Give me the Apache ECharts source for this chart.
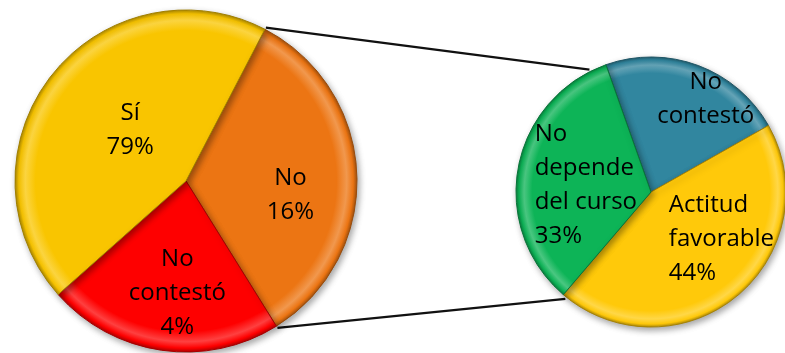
<!DOCTYPE html>
<html>
<head>
<meta charset="utf-8">
<script src="https://cdn.jsdelivr.net/npm/echarts@6/dist/echarts.min.js"></script>
<style>
  html, body { margin: 0; padding: 0; background: #fff; }
  #chart { width: 785px; height: 353px; }
</style>
</head>
<body>
<div id="chart"></div>
<script>
// main pie: slice shares as drawn, and the percentages printed on the labels
const mainNames = ['No', 'No\ncontestó', 'Sí']
const mainShares = [33.5, 22.3, 44.2]
const mainLabels = ['16%', '4%', '79%']

// breakdown pie
const subNames = ['No\ncontestó', 'Actitud\nfavorable', 'No\ndepende\ndel curso']
const subValues = [22, 44, 33]
const subLabels = ['', '44%', '33%']

const mainColors = ['#EC7513', '#FE0000', '#F9C500']
const subColors = ['#31869F', '#FFC90A', '#0DB457']

const mainCenter = [186, 181]
const mainRadius = 171
const mainStart = 27.5 // clockwise from 12 o'clock

const subCenter = [651, 192]
const subRadius = 135
const subStart = -19.5

// label nudges so text sits like the original
const mainOffsets = [[16, 18], [4, 25], [14, 4]]
const subOffsets = [[30, -27], [-27, -7], [-47, 6]]
const subAlign = ['center', 'left', 'left']

const chart = echarts.init(document.getElementById('chart'))

function shade(hex, amt) {
  const n = parseInt(hex.slice(1), 16)
  let r = n >> 16, g = (n >> 8) & 255, b = n & 255
  const f = c => amt > 0 ? Math.round(c + (255 - c) * amt) : Math.round(c * (1 + amt))
  return 'rgb(' + f(r) + ',' + f(g) + ',' + f(b) + ')'
}

function bevel(color, center, radius) {
  return {
    type: 'radial',
    x: center[0], y: center[1], r: radius,
    global: true,
    colorStops: [
      { offset: 0, color: color },
      { offset: 0.88, color: color },
      { offset: 0.94, color: shade(color, 0.25) },
      { offset: 0.978, color: color },
      { offset: 1, color: shade(color, -0.3) }
    ]
  }
}

function pt(center, r, deg) {
  const a = deg * Math.PI / 180
  return [center[0] + r * Math.sin(a), center[1] - r * Math.cos(a)]
}

const mainTotal = mainShares.reduce((a, b) => a + b, 0)
const splitEnd = mainStart + 360 * mainShares[0] / mainTotal
const topA = pt(mainCenter, mainRadius + 2, mainStart)
const botA = pt(mainCenter, mainRadius + 2, splitEnd)
const topB = pt(subCenter, subRadius + 2, -26.7)
const botB = pt(subCenter, subRadius + 2, 218.7)

const labelBase = {
  show: true,
  position: 'inside',
  color: '#000',
  fontFamily: 'Open Sans',
  fontSize: 24,
  lineHeight: 34
}

const mainData = mainNames.map((name, i) => ({
  name: name,
  value: mainShares[i],
  pct: mainLabels[i],
  itemStyle: { color: bevel(mainColors[i], mainCenter, mainRadius), borderColor: shade(mainColors[i], -0.35) },
  label: { offset: mainOffsets[i] }
}))

const subData = subNames.map((name, i) => ({
  name: name,
  value: subValues[i],
  pct: subLabels[i],
  itemStyle: { color: bevel(subColors[i], subCenter, subRadius), borderColor: shade(subColors[i], -0.35) },
  label: { offset: subOffsets[i] }
}))

const option = {
  backgroundColor: '#fff',
  animation: false,
  graphic: [
    { type: 'line', z: 0, shape: { x1: topA[0], y1: topA[1], x2: topB[0], y2: topB[1] }, style: { stroke: '#111', lineWidth: 2.2 } },
    { type: 'line', z: 0, shape: { x1: botA[0], y1: botA[1], x2: botB[0], y2: botB[1] }, style: { stroke: '#111', lineWidth: 2.2 } }
  ],
  series: [
    {
      type: 'pie',
      z: 3,
      center: mainCenter,
      radius: mainRadius,
      startAngle: 90 - mainStart,
      clockwise: true,
      silent: true,
      itemStyle: {
        borderWidth: 1,
        shadowBlur: 6,
        shadowOffsetX: 2,
        shadowOffsetY: 3,
        shadowColor: 'rgba(0,0,0,0.35)'
      },
      label: Object.assign({}, labelBase, {
        formatter: p => p.name + '\n' + p.data.pct
      }),
      labelLine: { show: false },
      data: mainData
    },
    {
      type: 'pie',
      z: 3,
      center: subCenter,
      radius: subRadius,
      startAngle: 90 - subStart,
      clockwise: true,
      silent: true,
      itemStyle: {
        borderWidth: 1,
        shadowBlur: 6,
        shadowOffsetX: 2,
        shadowOffsetY: 3,
        shadowColor: 'rgba(0,0,0,0.35)'
      },
      label: Object.assign({}, labelBase, {
        formatter: p => p.data.pct ? p.name + '\n' + p.data.pct : p.name
      }),
      labelLayout: p => ({ align: subAlign[p.dataIndex] }),
      labelLine: { show: false },
      data: subData
    }
  ]
}

chart.setOption(option)
</script>
</body>
</html>
